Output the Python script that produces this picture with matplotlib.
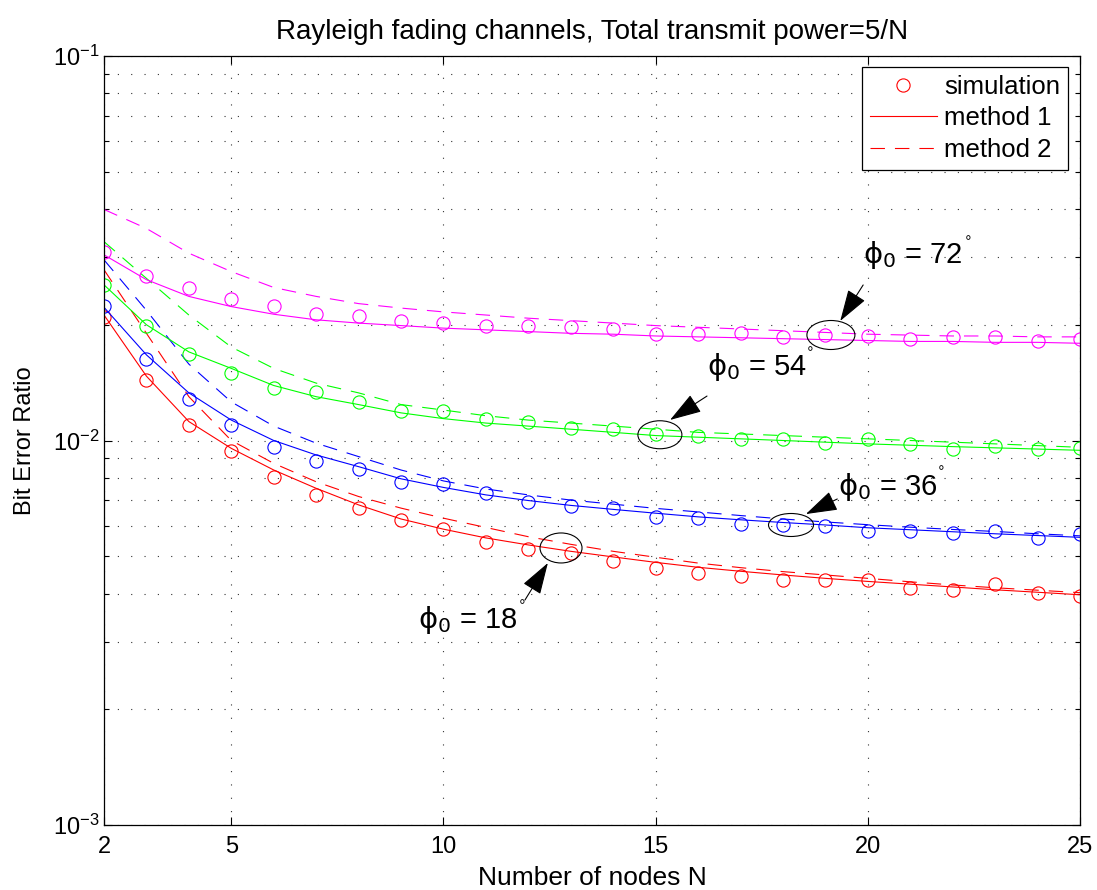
import matplotlib
matplotlib.use('Agg')
import matplotlib.pyplot as plt
import numpy as np
from matplotlib.patches import Ellipse
from matplotlib.transforms import ScaledTranslation
from matplotlib.ticker import LogLocator, NullFormatter

plt.rcParams['font.family'] = ['Liberation Sans', 'DejaVu Sans']
plt.rcParams['mathtext.fontset'] = 'dejavusans'

N = np.arange(2, 26)

# simulation points
sim_18 = [0.0210, 0.0144, 0.0110, 0.00940, 0.00802, 0.00722, 0.00667, 0.00621, 0.00589, 0.00546, 0.00521, 0.00509,
          0.00487, 0.00465, 0.00451, 0.00443, 0.00435, 0.00435, 0.00434, 0.00413, 0.00409, 0.00423, 0.00401, 0.00395]
sim_36 = [0.0224, 0.0163, 0.0128, 0.0110, 0.00960, 0.00886, 0.00843, 0.00778, 0.00771, 0.00732, 0.00690, 0.00676,
          0.00667, 0.00634, 0.00628, 0.00607, 0.00603, 0.00599, 0.00582, 0.00580, 0.00576, 0.00580, 0.00558, 0.00570]
sim_54 = [0.0254, 0.0199, 0.0168, 0.0150, 0.0137, 0.0134, 0.0126, 0.0119, 0.0119, 0.0114, 0.0112, 0.0108,
          0.0107, 0.0104, 0.0103, 0.0101, 0.0101, 0.00984, 0.0101, 0.00977, 0.00948, 0.00968, 0.00952, 0.00954]
sim_72 = [0.0310, 0.0268, 0.0249, 0.0233, 0.0224, 0.0213, 0.0211, 0.0204, 0.0202, 0.0199, 0.0198, 0.0197,
          0.0195, 0.0189, 0.0189, 0.0190, 0.0186, 0.0188, 0.0187, 0.0184, 0.0186, 0.0186, 0.0181, 0.0184]

# method 1 (solid)
m1_18 = [0.0212, 0.0147, 0.0112, 0.00954, 0.00838, 0.00751, 0.00680, 0.00625, 0.00588, 0.00558, 0.00535, 0.00515,
         0.00498, 0.00482, 0.00468, 0.00457, 0.00447, 0.00438, 0.00430, 0.00423, 0.00416, 0.00409, 0.00403, 0.00397]
m1_36 = [0.0222, 0.0167, 0.0133, 0.0113, 0.0100, 0.00917, 0.00855, 0.00795, 0.00755, 0.00722, 0.00698, 0.00678,
         0.00662, 0.00647, 0.00633, 0.00622, 0.00612, 0.00603, 0.00593, 0.00586, 0.00579, 0.00572, 0.00566, 0.00560]
m1_54 = [0.0254, 0.0200, 0.0170, 0.0154, 0.0139, 0.0130, 0.0124, 0.0118, 0.0114, 0.0111, 0.0109, 0.0107,
         0.0105, 0.0103, 0.0102, 0.0101, 0.0100, 0.00990, 0.00980, 0.00972, 0.00964, 0.00957, 0.00950, 0.00943]
m1_72 = [0.0304, 0.0262, 0.0237, 0.0223, 0.0213, 0.0206, 0.0202, 0.0199, 0.0196, 0.0194, 0.0192, 0.0190,
         0.0189, 0.0187, 0.0186, 0.0185, 0.0184, 0.0183, 0.0182, 0.0181, 0.0181, 0.0180, 0.0180, 0.0179]

# method 2 (dashed)
m2_18 = [0.0278, 0.0190, 0.0130, 0.0100, 0.00872, 0.00781, 0.00715, 0.00667, 0.00628, 0.00594, 0.00562, 0.00537,
         0.00515, 0.00497, 0.00480, 0.00467, 0.00456, 0.00447, 0.00438, 0.00429, 0.00421, 0.00414, 0.00408, 0.00402]
m2_36 = [0.0295, 0.0218, 0.0158, 0.0126, 0.0109, 0.00984, 0.00908, 0.00838, 0.00785, 0.00748, 0.00722, 0.00700,
         0.00683, 0.00666, 0.00652, 0.00638, 0.00625, 0.00614, 0.00604, 0.00595, 0.00587, 0.00580, 0.00572, 0.00565]
m2_54 = [0.0329, 0.0264, 0.0212, 0.0175, 0.0154, 0.0141, 0.0133, 0.0124, 0.0120, 0.0116, 0.0113, 0.0111,
         0.0109, 0.0107, 0.0105, 0.0104, 0.0103, 0.0102, 0.0101, 0.0100, 0.0099, 0.0098, 0.0097, 0.0096]
m2_72 = [0.0399, 0.0356, 0.0307, 0.0275, 0.0250, 0.0237, 0.0227, 0.0221, 0.0216, 0.0212, 0.0208, 0.0205,
         0.0202, 0.0199, 0.0197, 0.0195, 0.0193, 0.0191, 0.0189, 0.0188, 0.0187, 0.0187, 0.0186, 0.0186]

series = [('#ff0000', sim_18, m1_18, m2_18), ('#0000ff', sim_36, m1_36, m2_36),
          ('#00ff00', sim_54, m1_54, m2_54), ('#ff00ff', sim_72, m1_72, m2_72)]

fig = plt.figure(figsize=(10.97, 8.90), dpi=100)
ax = fig.add_axes([104/1097, 1-825/890, 976/1097, 769/890])

handles = []
for c, s, a, b in series:
    h1, = ax.plot(N, s, 'o', mfc='none', mec=c, ms=9.5, mew=0.8)
    h2, = ax.plot(N, a, '-', color=c, lw=0.8)
    h3, = ax.plot(N, b, color=c, lw=0.8, linestyle=(0, (13, 9)))
    handles.append((h1, h2, h3))

ax.set_yscale('log')
ax.set_xlim(2, 25)
ax.set_ylim(1e-3, 1e-1)
ax.set_xticks([2, 5, 10, 15, 20, 25])
ax.yaxis.set_minor_locator(LogLocator(base=10, subs=np.arange(2, 10)))
ax.yaxis.set_minor_formatter(NullFormatter())
ax.tick_params(which='both', direction='in', top=True, right=True, labelsize=17, width=0.8)
ax.tick_params(which='major', length=6)
ax.tick_params(which='minor', length=3.5)
ax.tick_params(axis='x', pad=8)
for sp in ax.spines.values():
    sp.set_linewidth(0.9)

ax.grid(True, which='major', color='0.2', linestyle=(0, (1, 11)), lw=0.8)
ax.grid(True, which='minor', axis='y', color='0.2', linestyle=(0, (1, 11)), lw=0.8)
ax.set_axisbelow(True)

ax.set_title('Rayleigh fading channels, Total transmit power=5/N', fontsize=20, pad=12)
ax.set_xlabel('Number of nodes N', fontsize=19, labelpad=6)
ax.set_ylabel('Bit Error Ratio', fontsize=17, labelpad=12)

leg = ax.legend(list(handles[0]), ['simulation', 'method 1', 'method 2'], loc='upper right',
                bbox_to_anchor=(1068/1097, 1-67/890), bbox_transform=fig.transFigure,
                fontsize=18.5, fancybox=False, edgecolor='k', framealpha=1, borderaxespad=0,
                handlelength=2.6, handletextpad=0.3, labelspacing=0.3, borderpad=0.3)
leg.get_frame().set_linewidth(0.9)

# annotations: label, ellipse centre, ellipse size (px), arrow tail, arrow head, text pos, degree pos
notes = [
    ('72', (19.13, 0.01881), (48, 29), (19.89, 0.02538), (19.35, 0.02046), (19.89, 0.02894), (22.34, 0.0340)),
    ('54', (15.10, 0.01035), (44, 28), (16.21, 0.01305), (15.34, 0.01131), (16.21, 0.01480), (18.62, 0.01751)),
    ('36', (18.19, 0.006029), (45, 23), (19.28, 0.007045), (18.54, 0.006437), (19.30, 0.007217), (21.70, 0.008583)),
    ('18', (12.77, 0.005254), (42, 30), (11.92, 0.003847), (12.46, 0.004802), (9.40, 0.003253), (11.83, 0.003847)),
]
for lab, cen, sz, tail, head, tpos, dpos in notes:
    tr = fig.dpi_scale_trans + ScaledTranslation(cen[0], cen[1], ax.transData)
    ax.add_patch(Ellipse((0, 0), sz[0]/100, sz[1]/100, transform=tr, fill=False, ec='k', lw=0.8, zorder=5))
    ax.annotate('', xy=head, xytext=tail,
                arrowprops=dict(arrowstyle='-|>,head_length=1.0,head_width=0.32', color='k', lw=0.8,
                                shrinkA=0, shrinkB=0, mutation_scale=20))
    ax.text(tpos[0], tpos[1], r'$\mathrm{\phi}_{\mathrm{0}}$' + ' = ' + lab, fontsize=21, va='baseline', ha='left')
    ax.text(dpos[0], dpos[1], r'$\circ$', fontsize=10, va='center', ha='center')

fig.savefig('out.png', dpi=100)
